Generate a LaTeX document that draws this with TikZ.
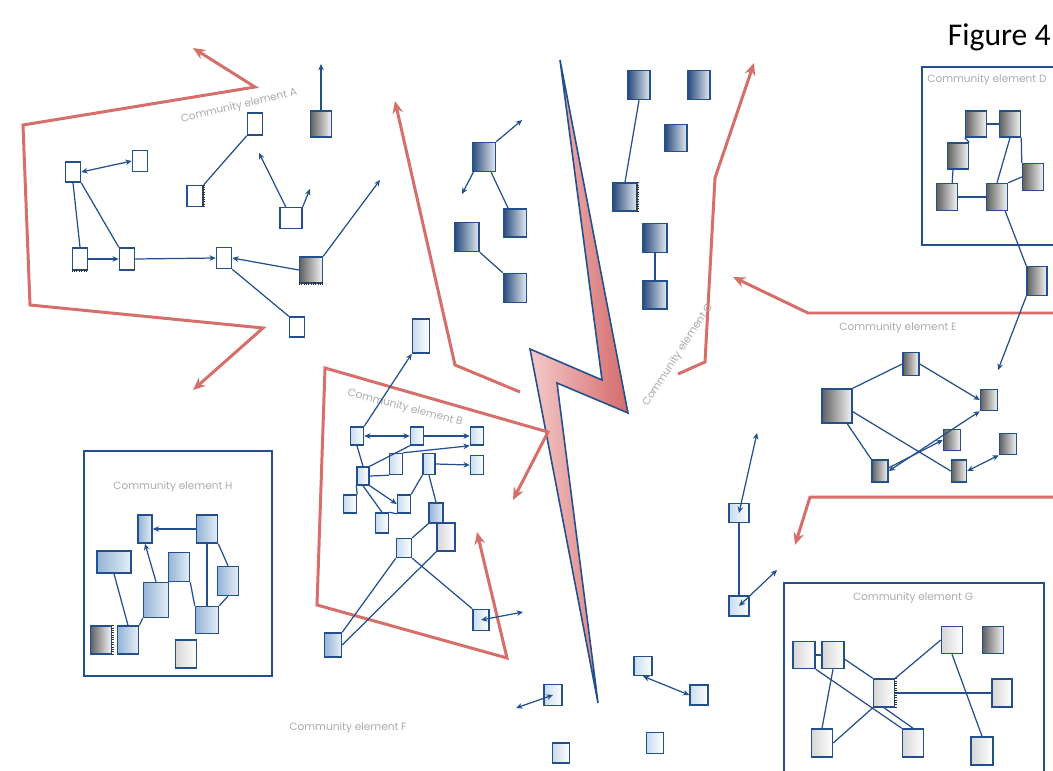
\documentclass[tikz,border=0pt]{standalone}
\usepackage{fontspec}
\setmainfont{Poppins}
\newfontfamily\titlefont{Carlito}
\usetikzlibrary{arrows.meta}
\definecolor{bl}{HTML}{23508C}
\definecolor{rd}{HTML}{D66E69}
\definecolor{lbl}{HTML}{ABABAB}
\definecolor{dbL}{HTML}{2A4C7C}
\definecolor{dbR}{HTML}{E4EAF2}
\definecolor{lbL}{HTML}{C8DCEE}
\definecolor{mbL}{HTML}{94B4D6}
\definecolor{mbR}{HTML}{E6EEF7}
\definecolor{boltL}{HTML}{F4CACA}
\definecolor{boltR}{HTML}{D56B6B}
\newcommand\mybox[6]{\node[#2,minimum width=#5*0.02cm,minimum height=#6*0.02cm] (#1) at (#3,#4) {};}
\tikzset{
  box/.style={draw=bl, line width=0.85pt, inner sep=0pt, rectangle},
  wb/.style={box, fill=white},
  gb/.style={box, left color=black!62, right color=black!4},
  db/.style={box, left color=dbL, right color=dbR},
  lb/.style={box, left color=lbL, right color=white},
  mb/.style={box, left color=mbL, right color=mbR},
  lg/.style={box, left color=black!16, right color=white},
  link/.style={draw=bl, line width=0.7pt},
  tip/.style={link, -{Stealth[length=3.6pt,width=3.2pt]}},
  tips/.style={link, {Stealth[length=3.6pt,width=3.2pt]}-{Stealth[length=3.6pt,width=3.2pt]}},
  redl/.style={draw=rd, line width=1.7pt, line join=miter},
  redtip/.style={redl, -{Stealth[length=7pt,width=6pt]}},
  redtips/.style={redl, {Stealth[length=7pt,width=6pt]}-{Stealth[length=7pt,width=6pt]}},
  lab/.style={text=lbl, font=\fontsize{6}{7}\selectfont, inner sep=0pt},
  frame/.style={draw=bl, line width=1pt, inner sep=0pt, rectangle},
  hatch/.style={draw=black!80, line width=1.6pt, dash pattern=on 0.45pt off 0.9pt}
}
\begin{document}
\begin{tikzpicture}[x=0.02cm, y=-0.02cm]
\useasboundingbox (0,0) rectangle (1053,770);
\clip (0,0) rectangle (1053,770);
\fill[white] (0,0) rectangle (1053,770);

% title
\node[font=\titlefont\fontsize{18}{20}\selectfont, anchor=east, inner sep=0pt] (title) at (1051,37) {Figure 4};

% frames
\node[frame, anchor=north west, minimum width=140*0.02cm, minimum height=178*0.02cm] (frameD) at (921,66) {};
\node[frame, anchor=north west, minimum width=260*0.02cm, minimum height=200*0.02cm] (frameG) at (783,582) {};
\node[frame, anchor=north west, minimum width=188*0.02cm, minimum height=225*0.02cm] (frameH) at (83,450) {};

% lightning bolt
\draw[draw=bl, line width=0.9pt, line join=miter, left color=boltL, right color=boltR]
  (560,60) -- (628,413) -- (557,383) -- (598,703) -- (530,349) -- (602,380) -- cycle;

% red arrows
\coordinate (rA1) at (193,48); \coordinate (rA2) at (193,390);
\draw[redtips] (rA1) -- (255,87) -- (23,125) -- (30,305) -- (263,328) -- (rA2);
\coordinate (rM1) at (520,392); \coordinate (rM2) at (395,101);
\draw[redtip] (rM1) -- (455,365) -- (rM2);
\coordinate (rR1) at (678,374); \coordinate (rR2) at (754,63);
\draw[redtip] (rR1) -- (705,362) -- (715,178) -- (rR2);
\coordinate (rE1) at (1060,313); \coordinate (rE2) at (733,277);
\draw[redtip] (rE1) -- (808,313) -- (rE2);
\coordinate (rE3) at (1060,497); \coordinate (rE4) at (795,545);
\draw[redtip] (rE3) -- (810,497) -- (rE4);
\coordinate (rB1) at (513,500); \coordinate (rB2) at (477,532);
\draw[redtips] (rB1) -- (548,432) -- (325,368) -- (317,605) -- (507,658) -- (rB2);

% labels
\node[lab, rotate=13.3] (labA) at (239,106) {Community element A};
\node[lab, rotate=-14.5] (labB) at (405,408) {Community element B};
\node[lab, rotate=57] (labC) at (678,355) {Community element C};
\node[lab, anchor=west] (labD) at (927,80) {Community element D};
\node[lab] (labE) at (898,328) {Community element E};
\node[lab] (labF) at (348,728) {Community element F};
\node[lab] (labG) at (913,598) {Community element G};
\node[lab] (labH) at (173,487) {Community element H};

% ---- community A
\mybox{a1}{wb}{73}{172}{15}{20}
\mybox{a2}{wb}{140}{161}{15}{21}
\mybox{a3}{wb}{80}{259}{15}{22}
\mybox{a4}{wb}{127}{259}{15}{22}
\mybox{a5}{wb}{224}{258}{15}{21}
\mybox{a6}{gb}{311}{270}{23}{26}
\mybox{a7}{wb}{297}{327}{15}{20}
\mybox{a8}{wb}{195}{196}{16}{21}
\mybox{a9}{wb}{255}{124}{15}{22}
\mybox{a10}{wb}{291}{218}{22}{21}
\mybox{a11}{gb}{321}{124}{21}{26}
\coordinate (pA1) at (380,180);
\coordinate (pA2) at (259,153);
\coordinate (pA3) at (310,189);
\coordinate (pA4) at (321,64);
\draw[tips] (a1.east) -- (a2.west);
\draw[link] (a1.south) -- (a3.north);
\draw[link] (a1.south east) -- (a4.north west);
\draw[tip] (a3.east) -- (a4.west);
\draw[tip] (a4.east) -- (a5.west);
\draw[tip] (a6.west) -- (a5.east);
\draw[link] (a5.south east) -- (a7.north west);
\draw[tip] (a6.north east) -- (pA1);
\draw[link] (a8.north east) -- (a9.south west);
\draw[tip] (a10.115) -- (pA2);
\draw[tip] (a10.north east) -- (pA3);
\draw[tip] (a11.north) -- (pA4);
\draw[hatch] (a6.south west) -- (a6.south east);
\draw[hatch] (a8.north east) -- (a8.south east);
\draw[hatch] (a3.south west) -- (a3.south east);

% ---- top middle
\mybox{b1}{db}{484}{157}{23}{29}
\mybox{b2}{db}{515}{223}{23}{28}
\mybox{b3}{db}{467}{237}{24}{29}
\mybox{b4}{db}{515}{288}{23}{29}
\mybox{b5}{db}{639}{85}{22}{29}
\mybox{b6}{db}{699}{85}{22}{29}
\mybox{b7}{db}{676}{138}{22}{27}
\mybox{b8}{db}{625}{197}{24}{28}
\mybox{b9}{db}{655}{238}{24}{29}
\mybox{b10}{db}{655}{295}{24}{28}
\coordinate (pB1) at (522,120);
\coordinate (pB2) at (462,194);
\draw[tip] (b1.north east) -- (pB1);
\draw[tip] (b1.235) -- (pB2);
\draw[link] (b1.-65) -- (b2.115);
\draw[link] (b3.south east) -- (b4.north west);
\draw[link] (b5.south) -- (b8.north);
\draw[link] (b9.south) -- (b10.north);
\draw[hatch] (b8.north east) -- (b8.south east);

% ---- community B
\mybox{ctop}{lb}{421}{336}{17}{34}
\mybox{c1}{lb}{357}{436}{13}{18}
\mybox{c2}{lb}{417}{436}{13}{18}
\mybox{c3}{lb}{477}{436}{13}{18}
\mybox{c4}{lb}{396}{464}{13}{21}
\mybox{c5}{lb}{429}{464}{12}{21}
\mybox{c6}{lb}{477}{465}{13}{19}
\mybox{c7}{lb}{363}{476}{12}{18}
\mybox{c8}{lb}{350}{504}{13}{18}
\mybox{c9}{lb}{404}{504}{13}{18}
\mybox{c10}{lb}{382}{523}{13}{20}
\mybox{c11}{mb}{436}{513}{14}{20}
\mybox{c12}{lg}{446}{537}{18}{28}
\mybox{c13}{lb}{404}{548}{15}{19}
\mybox{c14}{lb}{481}{620}{16}{21}
\mybox{c15}{mb}{333}{645}{17}{24}
\coordinate (pC1) at (523,612);
\draw[tip] (c1.north east) -- (ctop.south west);
\draw[tips] (c1.east) -- (c2.west);
\draw[tip] (c2.east) -- (c3.west);
\draw[link] (c1.south) -- (c7.north);
\draw[link] (c7.south west) -- (c8.north east);
\draw[link] (c7.south) -- (c10.north);
\draw[tip] (c7.south east) -- (c9.west);
\draw[link] (c7.east) -- (c4.south west);
\draw[link] (c7.north east) -- (c2.south west);
\draw[tip] (c4.north east) -- (c3.south west);
\draw[tip] (c5.east) -- (c6.west);
\draw[link] (c5.south west) -- (c9.north east);
\draw[link] (c5.south) -- (c11.north);
\draw[link] (c10.north east) -- (c9.south west);
\draw[link] (c11.south west) -- (c13.north east);
\draw[link] (c13.south east) -- (c14.north west);
\draw[link] (c13.south west) -- (c15.north east);
\draw[link] (c12.south west) -- (c15.east);
\draw[tips] (c14.center) -- (pC1);

% ---- community D
\mybox{d1}{gb}{976}{124}{21}{26}
\mybox{d2}{gb}{1010}{124}{21}{26}
\mybox{d3}{gb}{958}{156}{21}{26}
\mybox{d4}{gb}{1033}{177}{21}{27}
\mybox{d5}{gb}{947}{197}{21}{27}
\mybox{d6}{gb}{997}{197}{21}{27}
\mybox{d7}{gb}{1037}{281}{20}{29}
\coordinate (pD1) at (998,370);
\draw[link] (d1.east) -- (d2.west);
\draw[link] (d1.south west) -- (d3.north east);
\draw[link] (d3.250) -- (d5.70);
\draw[link] (d5.east) -- (d6.west);
\draw[link] (d6.north east) -- (d4.west);
\draw[link] (d2.south) -- (d6.north);
\draw[link] (d2.south east) -- (d4.north west);
\draw[link] (d6.-60) -- (d7.north west);
\draw[tip] (d7.south west) -- (pD1);

% ---- community E
\mybox{e1}{gb}{837}{406}{30}{34}
\mybox{e2}{gb}{911}{364}{16}{23}
\mybox{e3}{gb}{989}{400}{17}{21}
\mybox{e4}{gb}{952}{440}{17}{21}
\mybox{e5}{gb}{1008}{444}{17}{21}
\mybox{e6}{gb}{880}{471}{16}{22}
\mybox{e7}{gb}{959}{471}{15}{22}
\draw[link] (e1.north east) -- (e2.west);
\draw[tip] (e2.east) -- (e3.west);
\draw[link] (e1.-60) -- (e6.north west);
\draw[link] (e1.-20) -- (e7.west);
\draw[tips] (e6.east) -- (e3.south west);
\draw[tip] (e6.20) -- (e4.west);
\draw[tips] (e7.east) -- (e5.south west);

% ---- community G
\mybox{g1}{lg}{804}{655}{22}{27}
\mybox{g2}{lg}{833}{655}{22}{27}
\mybox{g3}{lg}{884}{693}{21}{28}
\mybox{g4}{lg}{952}{640}{21}{27}
\mybox{g5}{gb}{993}{640}{21}{27}
\mybox{g6}{lg}{1002}{693}{20}{28}
\mybox{g7}{lg}{822}{743}{21}{28}
\mybox{g8}{lg}{913}{743}{21}{28}
\mybox{g9}{lg}{982}{751}{22}{28}
\draw[link] (g1.east) -- (g2.west);
\draw[link] (g2.-20) -- (g3.north west);
\draw[link] (g1.south east) -- (g8.north west);
\draw[link] (g2.south) -- (g7.north);
\draw[link] (g7.east) -- (g3.south west);
\draw[link] (g3.south) -- (g8.north);
\draw[link] (g3.north east) -- (g4.west);
\draw[link] (g3.east) -- (g6.west);
\draw[link] (g4.south) -- (g9.north);
\draw[hatch] (g3.north east) -- (g3.south east);

% ---- pair left of G
\mybox{h1}{lb}{739}{513}{20}{19}
\mybox{h2}{lb}{739}{606}{20}{20}
\coordinate (pH1) at (757,433);
\coordinate (pH2) at (777,570);
\draw[tips] (h1.center) -- (pH1);
\draw[link] (h1.south) -- (h2.north);
\draw[tips] (h2.center) -- (pH2);

% ---- bottom middle
\mybox{f1}{lb}{553}{695}{18}{21}
\mybox{f2}{lb}{643}{666}{18}{19}
\mybox{f3}{lb}{699}{695}{18}{20}
\mybox{f4}{lb}{561}{753}{17}{20}
\mybox{f5}{lb}{655}{743}{17}{21}
\coordinate (pF1) at (516,708);
\draw[tips] (f1.center) -- (pF1);
\draw[tips] (f2.south) -- (f3.west);

% ---- community H
\mybox{ha}{mb}{145}{529}{14}{28}
\mybox{hb}{mb}{207}{529}{21}{28}
\mybox{hc}{mb}{114}{562}{34}{22}
\mybox{hd}{mb}{179}{567}{21}{29}
\mybox{he}{mb}{228}{581}{21}{29}
\mybox{hf}{mb}{156}{600}{25}{35}
\mybox{hg}{mb}{207}{620}{23}{27}
\mybox{hh}{gb}{101}{640}{21}{28}
\mybox{hi}{mb}{128}{640}{21}{28}
\mybox{hj}{lg}{186}{654}{21}{28}
\draw[tip] (hb.west) -- (ha.east);
\draw[tip] (hf.north) -- (ha.south);
\draw[link] (hc.south) -- (hi.north);
\draw[link] (hi.north east) -- (hf.south west);
\draw[link] (hd.south east) -- (hg.north west);
\draw[link] (hb.south) -- (hg.north);
\draw[link] (hb.south east) -- (he.north);
\draw[link] (he.south) -- (hg.north east);
\draw[hatch] (hh.north east) -- (hh.south east);
\end{tikzpicture}
\end{document}
